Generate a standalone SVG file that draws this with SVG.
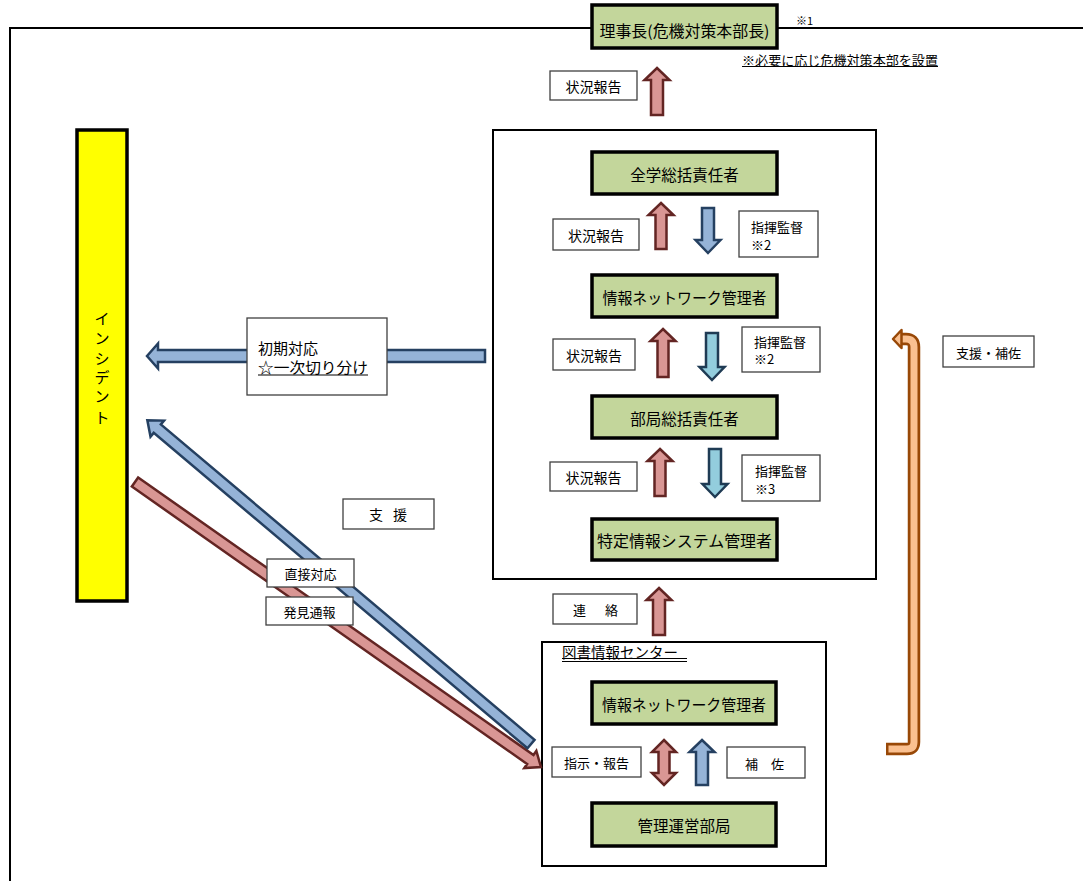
<svg xmlns="http://www.w3.org/2000/svg" width="1083" height="881" viewBox="0 0 1083 881">
<style>
text{font-family:"Noto Sans CJK JP","Noto Sans",sans-serif;fill:#000;dominant-baseline:central}
.frame{fill:none;stroke:#000;stroke-width:2}
.panel{fill:#fff;stroke:#000;stroke-width:2}
.role{fill:#C3D69B;stroke:#000;stroke-width:3.5}
.lbl{fill:#fff;stroke:#404040;stroke-width:1.3}
.rt{font-size:15.5px;text-anchor:middle}
.lt{font-size:13px}
.lc{font-size:13px;text-anchor:middle}
.rep{font-size:14px;text-anchor:middle}
.red{fill:#D99694;stroke:#632523;stroke-width:2.5;stroke-linejoin:miter}
.blue{fill:#95B3D7;stroke:#254061;stroke-width:2.5}
.lblue{fill:#93CDDD;stroke:#1F3B54;stroke-width:2.5}
.ul{stroke:#000;stroke-width:1.2}
</style>
<rect width="1083" height="881" fill="#fff"/>
<path class="frame" d="M10 881 L10 28 L1083 28"/>

<g id="main-panel"><rect class="panel" x="493" y="130" width="383" height="449"/></g>
<g id="library-panel"><rect class="panel" x="542" y="642" width="284" height="224"/>
<text x="562" y="651" style="font-size:14.5px">図書情報センター</text>
<line class="ul" x1="562" y1="658.5" x2="687" y2="658.5"/><line class="ul" x1="562" y1="661.5" x2="687" y2="661.5"/></g>

<g id="connectors">
<path class="red" transform="translate(135,482) rotate(35.07)" d="M0,-5.5 L483,-5.5 L483,-10.5 L496,0 L483,10.5 L483,5.5 L0,5.5 Z"/>
<path class="blue" transform="translate(531,744) rotate(220.16)" d="M0,-5.5 L489,-5.5 L489,-10.5 L502,0 L489,10.5 L489,5.5 L0,5.5 Z"/>
<path class="blue" d="M147,356 L158,343.5 L158,350 L485,350 L485,362 L158,362 L158,368.5 Z"/>
<path class="red" d="M657,68 L669.5,80 L663,80 L663,115 L651,115 L651,80 L644.5,80 Z"/>
<path class="red" d="M661,203 L673.5,215 L666.5,215 L666.5,249 L655.5,249 L655.5,215 L648.5,215 Z"/>
<path class="blue" d="M708,253 L720.5,240 L714,240 L714,208 L702,208 L702,240 L695.5,240 Z"/>
<path class="red" d="M663,329 L675.5,341 L668.5,341 L668.5,377 L657.5,377 L657.5,341 L650.5,341 Z"/>
<path class="lblue" d="M712,380 L724.5,367 L718,367 L718,333 L706,333 L706,367 L699.5,367 Z"/>
<path class="red" d="M660,449 L672.5,461 L665.5,461 L665.5,496 L654.5,496 L654.5,461 L647.5,461 Z"/>
<path class="lblue" d="M715,497 L727.5,484 L721,484 L721,449 L709,449 L709,484 L702.5,484 Z"/>
<path class="red" d="M659,588 L671.5,600 L665,600 L665,635 L653,635 L653,600 L646.5,600 Z"/>
<path class="red" d="M664,740 L676,752 L669.5,752 L669.5,773 L676,773 L664,785 L652,773 L658.5,773 L658.5,752 L652,752 Z"/>
<path class="blue" d="M702,740 L714.5,752 L708,752 L708,785 L696,785 L696,752 L689.5,752 Z"/>
<path d="M886,749 L907,749 Q914,749 914,742 L914,347 Q914,339 906,339 L899,339" fill="none" stroke="#984807" stroke-width="12.5"/>
<path d="M888.5,749 L907,749 Q914,749 914,742 L914,347 Q914,339 906,339 L899,339" fill="none" stroke="#FAC090" stroke-width="7"/>
<path d="M893,339 L901.5,330 L901.5,348 Z" fill="#FAC090" stroke="#984807" stroke-width="2.5" stroke-linejoin="round"/>
</g>

<g id="chairman"><rect class="role" x="592" y="5" width="185" height="43"/>
<text class="rt" x="684.5" y="30" textLength="170" lengthAdjust="spacingAndGlyphs">理事長(危機対策本部長)</text></g>
<text x="796" y="20" style="font-size:11px">※1</text>
<text x="742" y="59" style="font-size:13px" textLength="196" lengthAdjust="spacingAndGlyphs">※必要に応じ危機対策本部を設置</text>
<line class="ul" x1="742" y1="66.5" x2="938" y2="66.5"/>

<g id="n-zengaku"><rect class="role" x="592" y="152" width="185" height="42"/><text class="rt" x="684.5" y="174">全学総括責任者</text></g>
<g id="n-network"><rect class="role" x="592" y="275" width="185" height="42"/><text class="rt" x="684.5" y="297" textLength="164" lengthAdjust="spacingAndGlyphs">情報ネットワーク管理者</text></g>
<g id="n-bukyoku"><rect class="role" x="592" y="396" width="185" height="42"/><text class="rt" x="684.5" y="418">部局総括責任者</text></g>
<g id="n-tokutei"><rect class="role" x="592" y="519" width="185" height="41"/><text class="rt" x="684.5" y="540" textLength="175" lengthAdjust="spacingAndGlyphs">特定情報システム管理者</text></g>
<g id="n-lib-network"><rect class="role" x="592" y="682" width="184" height="42"/><text class="rt" x="684" y="704" textLength="164" lengthAdjust="spacingAndGlyphs">情報ネットワーク管理者</text></g>
<g id="n-kanri"><rect class="role" x="592" y="803" width="184" height="43"/><text class="rt" x="684" y="825">管理運営部局</text></g>

<g id="n-incident"><rect x="77" y="130" width="50" height="471" fill="#FFFF00" stroke="#000" stroke-width="3.5"/>
<text style="font-size:15px;text-anchor:middle"><tspan x="102" y="317">イ</tspan><tspan x="102" y="337">ン</tspan><tspan x="102" y="357">シ</tspan><tspan x="102" y="376">デ</tspan><tspan x="102" y="395">ン</tspan><tspan x="102" y="416">ト</tspan></text></g>

<g id="l-initial"><rect class="lbl" x="247" y="318" width="140" height="77"/>
<text x="258" y="347" style="font-size:15px">初期対応</text>
<text x="258" y="366" style="font-size:15px" textLength="110" lengthAdjust="spacingAndGlyphs">☆一次切り分け</text>
<line class="ul" x1="258" y1="375" x2="368" y2="375"/></g>

<g id="l-report0"><rect class="lbl" x="550" y="71" width="87" height="29"/><text class="rep" x="593.5" y="86">状況報告</text></g>
<g id="l-report1"><rect class="lbl" x="553" y="219" width="86" height="31"/><text class="rep" x="596" y="235">状況報告</text></g>
<g id="l-cmd1"><rect class="lbl" x="739" y="211" width="79" height="46"/><text class="lt" x="751" y="226">指揮監督</text><text class="lt" x="751" y="244">※2</text></g>
<g id="l-report2"><rect class="lbl" x="553" y="339" width="82" height="31"/><text class="rep" x="594" y="355">状況報告</text></g>
<g id="l-cmd2"><rect class="lbl" x="742" y="327" width="78" height="45"/><text class="lt" x="754" y="341">指揮監督</text><text class="lt" x="754" y="358">※2</text></g>
<g id="l-report3"><rect class="lbl" x="550" y="462" width="87" height="29"/><text class="rep" x="593.5" y="477">状況報告</text></g>
<g id="l-cmd3"><rect class="lbl" x="742" y="455" width="78" height="46"/><text class="lt" x="755" y="470">指揮監督</text><text class="lt" x="755" y="488">※3</text></g>
<g id="l-contact"><rect class="lbl" x="553" y="594" width="84" height="30"/><text class="lt" x="573" y="609">連</text><text class="lt" x="605" y="609">絡</text></g>
<g id="l-shien"><rect class="lbl" x="343" y="499" width="91" height="30"/><text x="369" y="514" style="font-size:14px">支</text><text x="393" y="514" style="font-size:14px">援</text></g>
<g id="l-direct"><rect class="lbl" x="267" y="559" width="87" height="28"/><text class="lc" x="310.5" y="573">直接対応</text></g>
<g id="l-found"><rect class="lbl" x="266" y="597" width="87" height="28"/><text class="lc" x="309.5" y="611">発見通報</text></g>
<g id="l-instr"><rect class="lbl" x="552" y="747" width="89" height="30"/><text class="lc" x="596.5" y="762">指示・報告</text></g>
<g id="l-hosa"><rect class="lbl" x="727" y="747" width="78" height="31"/><text class="lt" x="745" y="763">補</text><text class="lt" x="771" y="763">佐</text></g>
<g id="l-support"><rect class="lbl" x="943" y="336" width="91" height="31"/><text class="lc" x="988.5" y="352">支援・補佐</text></g>
</svg>
